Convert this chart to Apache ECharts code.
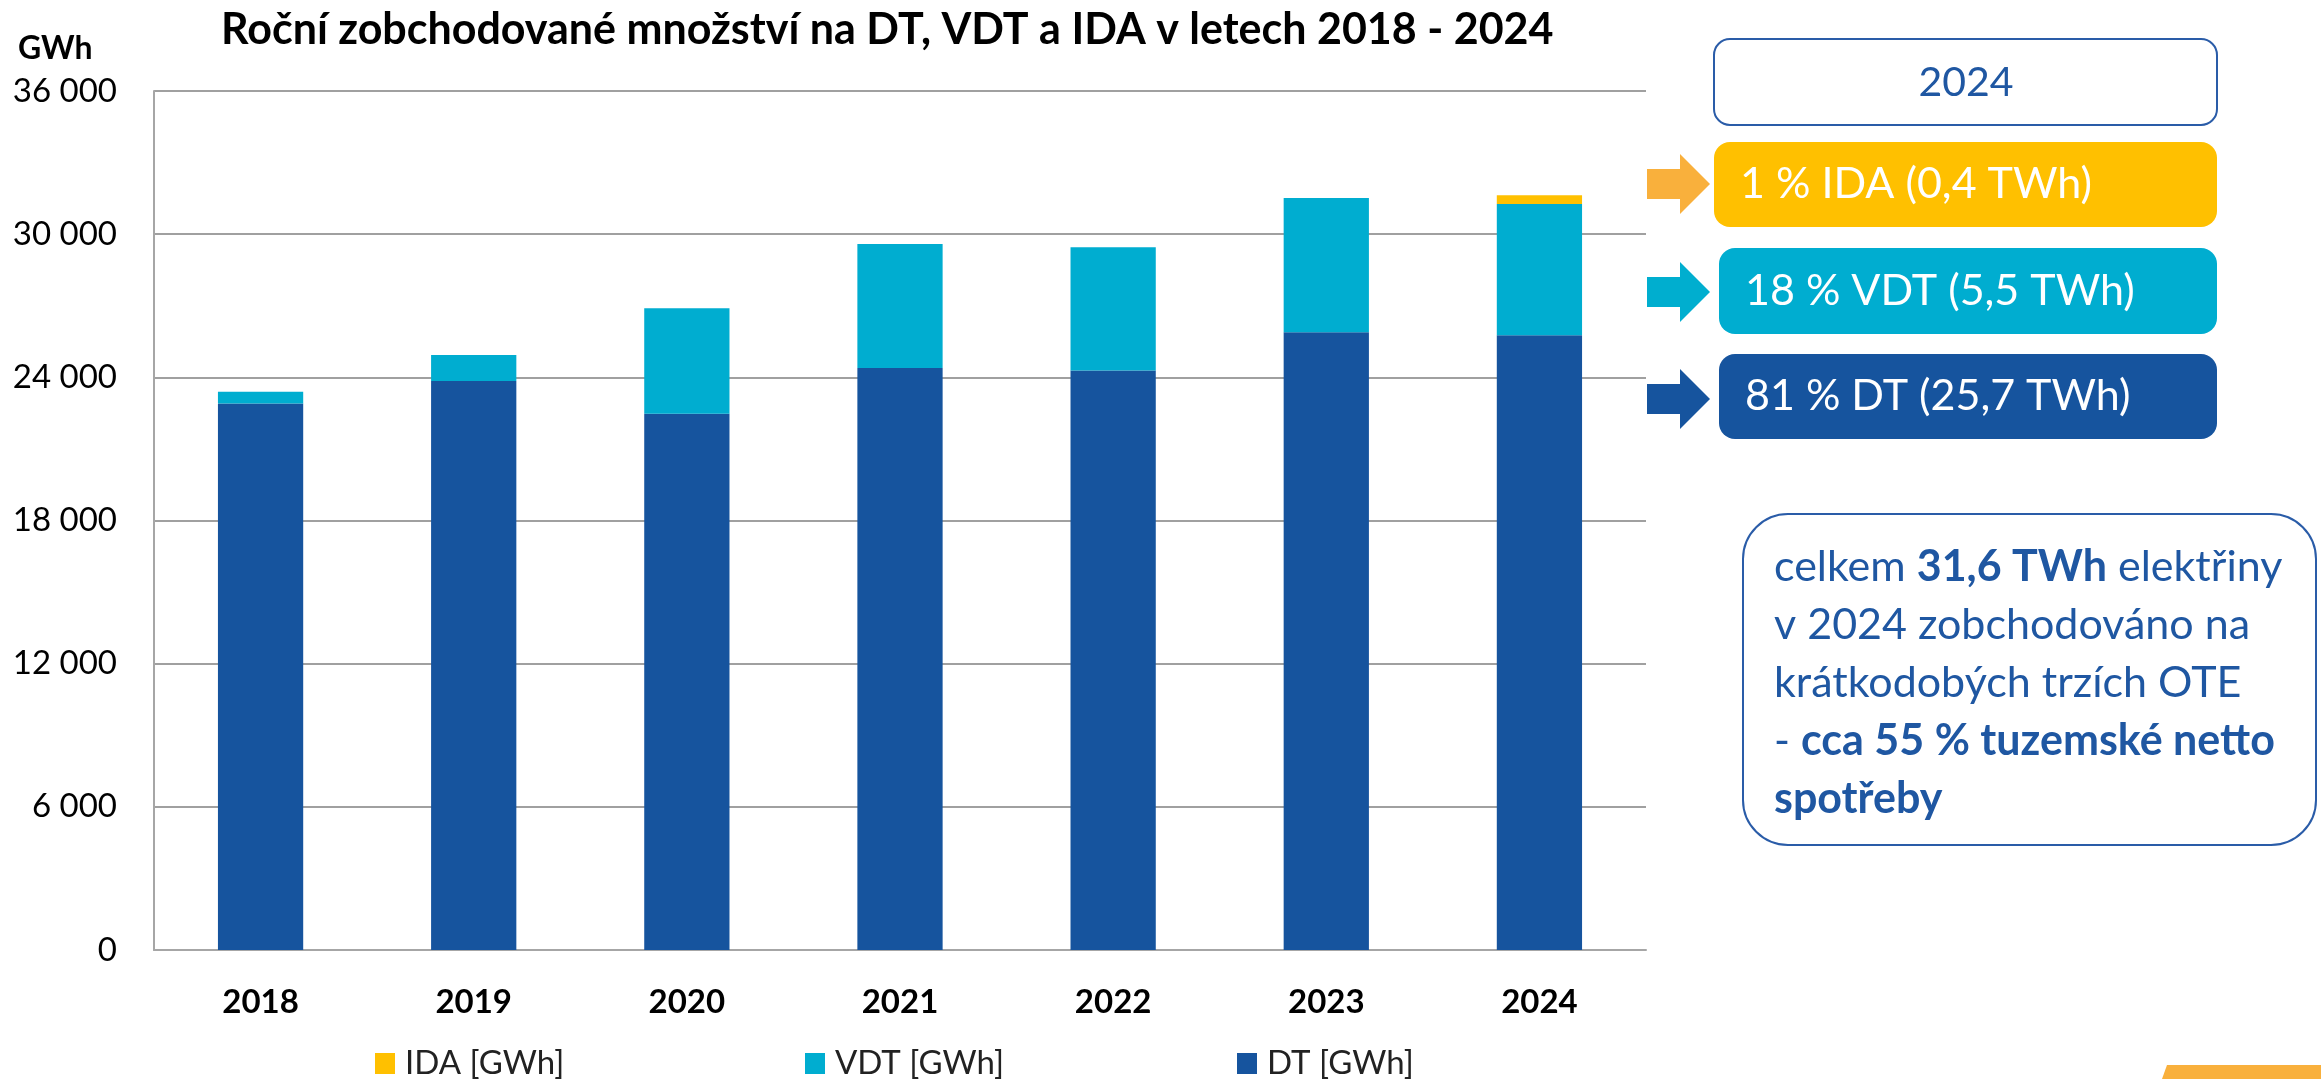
<!DOCTYPE html>
<html>
<head>
<meta charset="utf-8">
<script src="https://cdn.jsdelivr.net/npm/echarts@6/dist/echarts.min.js"></script>
<style>
  html, body { margin: 0; padding: 0; background: #fff; }
  #chart { width: 2321px; height: 1079px; }
</style>
</head>
<body>
<div id="chart"></div>
<script>
// roky a objemy v GWh
var years = ['2018', '2019', '2020', '2021', '2022', '2023', '2024'];
var dtValues = [22900, 23850, 22470, 24390, 24290, 25890, 25760];
var vdtValues = [500, 1090, 4420, 5200, 5160, 5630, 5500];
var idaValues = [0, 0, 0, 0, 0, 0, 375];
var seriesNames = ['IDA [GWh]', 'VDT [GWh]', 'DT [GWh]'];
var yMax = 36000;
var yStep = 6000;

var cDT = '#16549E', cVDT = '#00ADD0', cIDA = '#FFC000';
var blueText = '#1F57A2', boxLine = '#2A5CA8';
var font = 'Lato';

function fmtThousands(v) {
  return String(v).replace(/\B(?=(\d{3})+(?!\d))/g, ' ');
}

function arrow(x0, yMid, color) {
  // šipka vlevo od barevných rámečků
  return {
    type: 'polygon',
    shape: {
      points: [[x0, yMid - 15], [x0 + 33, yMid - 15], [x0 + 33, yMid - 30],
               [x0 + 63, yMid], [x0 + 33, yMid + 30], [x0 + 33, yMid + 15], [x0, yMid + 15]]
    },
    style: { fill: color }
  };
}

function colorBox(x, y, w, h, fill, label) {
  return [
    { type: 'rect', shape: { x: x, y: y, width: w, height: h, r: 16 }, style: { fill: fill } },
    { type: 'text', x: x + 26, y: y + h / 2,
      style: { text: label, fill: '#fff', font: '43px ' + font, textVerticalAlign: 'middle' } }
  ];
}

var chart = echarts.init(document.getElementById('chart'));

var graphics = [
  { type: 'text', x: 18, y: 49,
    style: { text: 'GWh', fill: '#000', font: 'bold 32px ' + font, textVerticalAlign: 'middle' } },
  // rámeček 2024
  { type: 'rect', shape: { x: 1714, y: 39, width: 503, height: 86, r: 16 },
    style: { fill: '#fff', stroke: boxLine, lineWidth: 2 } },
  { type: 'text', x: 1966, y: 83,
    style: { text: '2024', fill: blueText, font: '41px ' + font, textAlign: 'center', textVerticalAlign: 'middle' } },
  arrow(1647, 184, '#F9B03C'),
  arrow(1647, 292, '#00AECF'),
  arrow(1647, 399, '#16549E')
]
  .concat(colorBox(1714, 142, 503, 85, cIDA, '1 % IDA (0,4 TWh)'))
  .concat(colorBox(1719, 248, 498, 86, cVDT, '18 % VDT (5,5 TWh)'))
  .concat(colorBox(1719, 354, 498, 85, cDT, '81 % DT (25,7 TWh)'))
  .concat([
    { type: 'rect', shape: { x: 1743, y: 514, width: 573, height: 331, r: 45 },
      style: { fill: '#fff', stroke: boxLine, lineWidth: 2 } },
    { type: 'text', x: 1774, y: 538,
      style: {
        text: 'celkem {b|31,6 TWh} elektřiny\nv 2024 zobchodováno na\nkrátkodobých trzích OTE\n- {b|cca 55 % tuzemské netto}\n{b|spotřeby}',
        fill: blueText, font: '43px ' + font, lineHeight: 58,
        rich: { b: { fontWeight: 'bold', fontSize: 43, fontFamily: font, fill: blueText, lineHeight: 58 } }
      } },
    // oranžový proužek vpravo dole
    { type: 'polygon', shape: { points: [[2167, 1065], [2321, 1065], [2321, 1079], [2162, 1079]] },
      style: { fill: '#F9B03C' } }
  ]);

function legendAt(name, left) {
  return {
    data: [name], left: left, top: 1042,
    icon: 'rect', itemWidth: 20, itemHeight: 21,
    textStyle: { fontFamily: font, fontSize: 33, color: '#222', padding: [0, 0, 0, 5] }
  };
}

chart.setOption({
  backgroundColor: '#fff',
  animation: false,
  title: {
    text: 'Roční zobchodované množství na DT, VDT a IDA v letech 2018 - 2024',
    left: 216, top: 4,
    textStyle: { fontFamily: font, fontWeight: 'bold', fontSize: 43, color: '#000' }
  },
  legend: [legendAt(seriesNames[0], 370), legendAt(seriesNames[1], 800), legendAt(seriesNames[2], 1232)],
  grid: { left: 154, right: 675, top: 91, bottom: 129, containLabel: false },
  xAxis: {
    type: 'category',
    data: years,
    axisLine: { lineStyle: { color: '#A6A6A6', width: 2 } },
    axisTick: { show: false },
    axisLabel: { fontFamily: font, fontWeight: 'bold', fontSize: 33, color: '#000', margin: 36 }
  },
  yAxis: {
    type: 'value',
    min: 0, max: yMax, interval: yStep,
    axisLine: { show: true, lineStyle: { color: '#A6A6A6', width: 2 } },
    splitLine: { lineStyle: { color: '#A0A0A0', width: 2 } },
    axisLabel: { fontFamily: font, fontSize: 33, color: '#000', margin: 37, formatter: fmtThousands }
  },
  series: [
    { name: seriesNames[2], type: 'bar', stack: 'total', data: dtValues, barWidth: '40%',
      itemStyle: { color: cDT } },
    { name: seriesNames[1], type: 'bar', stack: 'total', data: vdtValues,
      itemStyle: { color: cVDT } },
    { name: seriesNames[0], type: 'bar', stack: 'total', data: idaValues,
      itemStyle: { color: cIDA } }
  ],
  graphic: graphics
});
</script>
</body>
</html>
